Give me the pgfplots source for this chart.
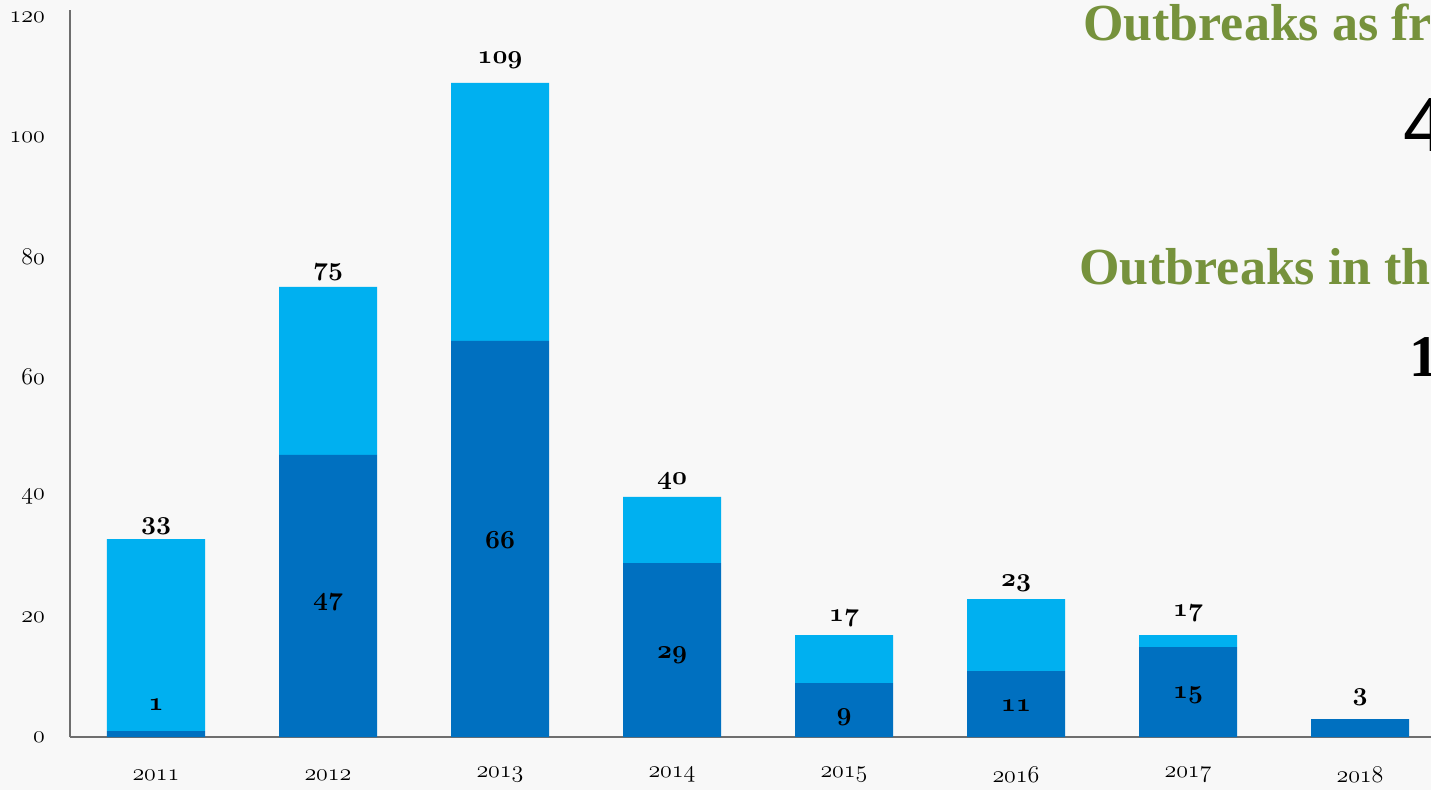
\RequirePackage{fix-cm}
\documentclass[border=0pt]{standalone}
\usepackage{fontspec}
\setmainfont{Liberation Serif}
\newfontfamily\sansf{Liberation Sans}
\usepackage{pgfplots}
\pgfplotsset{compat=1.18}

\definecolor{darkb}{RGB}{0,112,192}
\definecolor{lightb}{RGB}{0,176,240}
\definecolor{olivegr}{RGB}{118,146,60}
\definecolor{axgray}{RGB}{110,110,110}
\definecolor{bgc}{RGB}{248,248,248}

% old-style figures (cm math italic digits)
\newcommand\osr[1]{\mbox{\fontsize{24}{28}\usefont{OML}{cmm}{m}{it}#1}}
\newcommand\osb[1]{\mbox{\fontsize{26}{30}\usefont{OML}{cmm}{b}{it}#1}}

\pgfplotsset{base/.style={x=172pt,y=6pt,xmin=-0.5,xmax=7.5,ymin=0,ymax=121.17,
    anchor=south west,at={(0pt,0pt)}}}

\begin{document}
\begin{tikzpicture}
\path[use as bounding box] (-70pt,-53pt) rectangle (1361pt,737pt);
\clip (-70pt,-53pt) rectangle (1361pt,737pt);
\fill[bgc] (-70pt,-53pt) rectangle (1361pt,737pt);

\begin{axis}[base,
    ybar stacked, bar width=98pt,
    axis x line*=bottom, axis y line*=left,
    axis line style={draw=axgray,line width=2pt},
    major tick length=0pt,
    xtick={0,...,7},
    xticklabels={\osr{2011},\osr{2012},\osr{2013},\osr{2014},\osr{2015},\osr{2016},\osr{2017},\osr{2018}},
    ytick={0,20,...,120},
    yticklabels={\osr{0},\osr{20},\osr{40},\osr{60},\osr{80},\osr{100},\osr{120}},
    xticklabel style={anchor=center,inner sep=0pt,yshift=-38pt},
    yticklabel style={anchor=east,inner sep=0pt,xshift=-25pt}]
% dark: first part
\addplot[fill=darkb,draw=none] coordinates
  {(0,1)(1,47)(2,66)(3,29)(4,9)(5,11)(6,15)(7,3)};
% light: rest of the total
\addplot[fill=lightb,draw=none] coordinates
  {(0,32)(1,28)(2,43)(3,11)(4,8)(5,12)(6,2)(7,0)};
\end{axis}

\begin{axis}[base,hide axis,clip=false,
    every node near coord/.append style={anchor=center,inner sep=0pt,text=black},
    nodes near coords align=center]
% totals
\addplot[draw=none,mark=none,nodes near coords={\osb{\pgfplotspointmeta}},
    point meta=explicit symbolic] coordinates
  {(0,35.2)[33](1,77.5)[75](2,112.8)[109](3,42.7)[40](4,19.8)[17](5,25.7)[23](6,20.7)[17](7,6.7)[3]};
% dark part
\addplot[draw=none,mark=none,nodes near coords={\osb{\pgfplotspointmeta}},
    point meta=explicit symbolic] coordinates
  {(0,5.3)[1](1,22.5)[47](2,32.8)[66](3,13.7)[29](4,3.3)[9](5,5.2)[11](6,7.0)[15]};
\end{axis}

% side text, cut at the right edge
\node[anchor=base west,inner sep=0pt,text=olivegr,font=\fontsize{52}{60}\selectfont\bfseries]
  at (1013pt,696pt) {Outbreaks as from 2011};
\node[anchor=base west,inner sep=0pt,font=\fontsize{77}{80}\sansf]
  at (1333pt,585pt) {4};
\node[anchor=base west,inner sep=0pt,text=olivegr,font=\fontsize{52}{60}\selectfont\bfseries]
  at (1009pt,452pt) {Outbreaks in the};
\node[anchor=base west,inner sep=0pt,font=\fontsize{59}{64}\selectfont\bfseries]
  at (1339pt,360pt) {1};
\end{tikzpicture}
\end{document}
